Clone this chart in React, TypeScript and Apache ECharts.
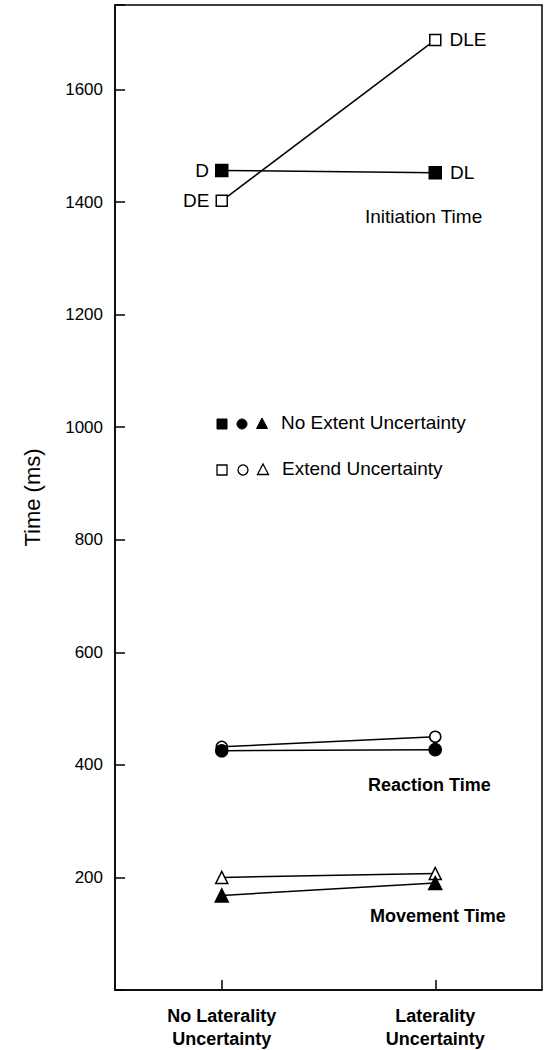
import React, { useEffect, useRef } from "react";
import * as echarts from "echarts";

const categories = ["No Laterality\nUncertainty", "Laterality\nUncertainty"];
const yTicks = [200, 400, 600, 800, 1000, 1200, 1400, 1600];

const initiationNoExtent = [1456, 1452];
const initiationExtent = [1402, 1688];
const reactionNoExtent = [425, 427];
const reactionExtent = [432, 450];
const movementNoExtent = [168, 190];
const movementExtent = [200, 207];

const initiationNoExtentLabels = ["D", "DL"];
const initiationExtentLabels = ["DE", "DLE"];

const legendRows = ["No Extent Uncertainty", "Extend Uncertainty"];
const groupNames = ["Initiation Time", "Reaction Time", "Movement Time"];

const FONT = "'Liberation Sans', Arial, Helvetica, sans-serif";

export default function App() {
  const ref = useRef<HTMLDivElement>(null);
  useEffect(() => {
    if (!ref.current) return;
    const chart = echarts.init(ref.current, undefined, { renderer: "svg" });

    const lineBase = (data: number[], symbol: string, filled: boolean, size: number) => ({
      type: "line",
      data,
      symbol,
      symbolSize: size,
      z: filled ? 4 : 3,
      lineStyle: { color: "#000", width: 1.5 },
      itemStyle: { color: filled ? "#000" : "#fff", borderColor: "#000", borderWidth: 1.5 },
      emphasis: { disabled: true },
    });

    const labelled = (s: any, labels: string[]) => ({
      ...s,
      data: s.data.map((v: number, i: number) => ({
        value: v,
        label: {
          show: true,
          formatter: labels[i],
          position: i === 0 ? "left" : "right",
          distance: i === 0 ? 6 : 8,
          color: "#000",
          fontFamily: FONT,
          fontSize: 19,
        },
      })),
    });

    const tri = (cx: number, cy: number, s: number) => [
      [cx, cy - s * 0.6],
      [cx + s * 0.55, cy + s * 0.45],
      [cx - s * 0.55, cy + s * 0.45],
    ];

    const option: any = {
      animation: false,
      backgroundColor: "#fff",
      grid: {
        left: 115,
        right: 6,
        top: 5,
        bottom: 58,
        show: true,
        borderColor: "#000",
        borderWidth: 1.5,
        backgroundColor: "transparent",
      },
      xAxis: {
        type: "category",
        data: categories,
        boundaryGap: true,
        axisLine: { lineStyle: { color: "#000", width: 1.5 } },
        axisTick: { show: true, inside: true, alignWithLabel: true, length: 10, lineStyle: { color: "#000", width: 1.5 } },
        axisLabel: {
          color: "#000",
          fontFamily: FONT,
          fontSize: 18,
          fontWeight: "bold",
          lineHeight: 23,
          margin: 14,
          interval: 0,
        },
        splitLine: { show: false },
      },
      yAxis: {
        type: "value",
        min: 0,
        max: 1750,
        interval: 200,
        name: "Time (ms)",
        nameLocation: "middle",
        nameGap: 72,
        nameTextStyle: { color: "#000", fontFamily: FONT, fontSize: 22 },
        axisLine: { show: true, lineStyle: { color: "#000", width: 1.5 } },
        axisTick: { show: true, inside: true, length: 10, lineStyle: { color: "#000", width: 1.5 } },
        axisLabel: {
          color: "#000",
          fontFamily: FONT,
          fontSize: 17,
          margin: 12,
          formatter: (v: number) => (yTicks.includes(v) ? String(v) : ""),
        },
        splitLine: { show: false },
      },
      series: [
        labelled(lineBase(initiationExtent, "rect", false, 11), initiationExtentLabels),
        labelled(lineBase(initiationNoExtent, "rect", true, 12), initiationNoExtentLabels),
        lineBase(reactionExtent, "circle", false, 11),
        lineBase(reactionNoExtent, "circle", true, 12),
        lineBase(movementExtent, "triangle", false, 12),
        lineBase(movementNoExtent, "triangle", true, 13),
      ],
      graphic: [
        { type: "text", left: 365, top: 207, style: { text: groupNames[0], fill: "#000", font: `19px ${FONT}` } },
        { type: "text", left: 368, top: 776, style: { text: groupNames[1], fill: "#000", font: `bold 18px ${FONT}` } },
        { type: "text", left: 370, top: 907, style: { text: groupNames[2], fill: "#000", font: `bold 18px ${FONT}` } },
        // legend row 1 (filled)
        { type: "rect", shape: { x: 217, y: 419, width: 10, height: 10 }, style: { fill: "#000", stroke: "#000", lineWidth: 1 } },
        { type: "circle", shape: { cx: 242, cy: 424, r: 5 }, style: { fill: "#000", stroke: "#000", lineWidth: 1 } },
        { type: "polygon", shape: { points: tri(262, 424, 10) }, style: { fill: "#000", stroke: "#000", lineWidth: 1 } },
        { type: "text", left: 281, top: 413, style: { text: legendRows[0], fill: "#000", font: `19px ${FONT}` } },
        // legend row 2 (open)
        { type: "rect", shape: { x: 217, y: 465, width: 10, height: 10 }, style: { fill: "#fff", stroke: "#000", lineWidth: 1.3 } },
        { type: "circle", shape: { cx: 243, cy: 470, r: 5 }, style: { fill: "#fff", stroke: "#000", lineWidth: 1.3 } },
        { type: "polygon", shape: { points: tri(263, 470, 10) }, style: { fill: "#fff", stroke: "#000", lineWidth: 1.3 } },
        { type: "text", left: 282, top: 459, style: { text: legendRows[1], fill: "#000", font: `19px ${FONT}` } },
      ],
    };
    chart.setOption(option);
    return () => chart.dispose();
  }, []);
  return (
    <div
      ref={ref}
      style={{ position: "absolute", left: 0, top: 0, width: 548, height: 1050, background: "#fff" }}
    />
  );
}
